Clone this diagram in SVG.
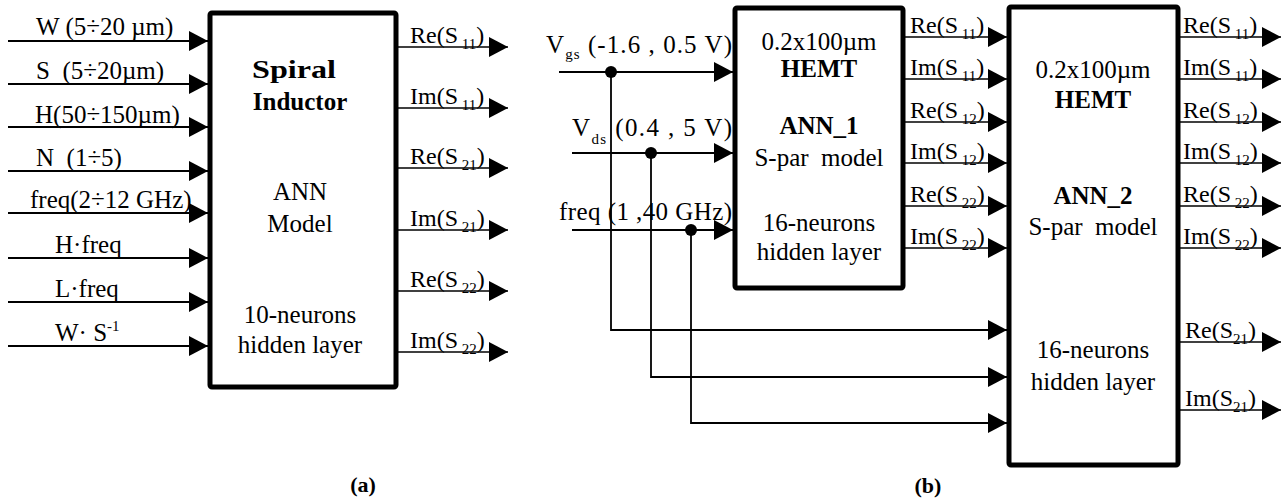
<svg xmlns="http://www.w3.org/2000/svg" width="1284" height="500" viewBox="0 0 1284 500">
<style>
text{font-family:"Liberation Serif","Times New Roman",serif;fill:#000}
.in{font-size:25px}
.lbl{font-size:24px}
.blk{font-size:25px;text-anchor:middle}
.b{font-weight:bold}
.sub{font-size:15px}
.box{fill:#fff;stroke:#000;stroke-width:5;stroke-linejoin:round}
.w{fill:none;stroke:#000;stroke-width:1.8}
.o{fill:none;stroke:#000;stroke-width:1.4}
.cap{font-size:22px;font-weight:bold;text-anchor:middle}
</style>
<defs>
<marker id="ah" markerWidth="20" markerHeight="20" refX="19" refY="10" orient="auto" markerUnits="userSpaceOnUse">
<path d="M0,0 L19,10 L0,20 z" fill="#000"/>
</marker>
</defs>

<g id="connectors">
<g class="w" marker-end="url(#ah)">
<line x1="8" y1="41" x2="208" y2="41"/>
<line x1="8" y1="84" x2="208" y2="84"/>
<line x1="8" y1="127" x2="208" y2="127"/>
<line x1="8" y1="171" x2="208" y2="171"/>
<line x1="8" y1="213" x2="208" y2="213"/>
<line x1="8" y1="258" x2="208" y2="258"/>
<line x1="8" y1="302" x2="208" y2="302"/>
<line x1="8" y1="346" x2="208" y2="346"/>
</g>
<g class="o" marker-end="url(#ah)">
<line x1="396" y1="47" x2="508" y2="47"/>
<line x1="396" y1="108" x2="508" y2="108"/>
<line x1="396" y1="168" x2="508" y2="168"/>
<line x1="396" y1="230" x2="508" y2="230"/>
<line x1="396" y1="291" x2="508" y2="291"/>
<line x1="396" y1="352" x2="508" y2="352"/>
</g>
<g class="w" marker-end="url(#ah)">
<line x1="559" y1="72" x2="733" y2="72"/>
<line x1="572" y1="153" x2="733" y2="153"/>
<line x1="572" y1="230" x2="733" y2="230"/>
<path d="M611,72 V330 H1007"/>
<path d="M651,153 V377 H1007"/>
<path d="M691,230 V423 H1007"/>
</g>
<g fill="#000">
<circle cx="611" cy="72" r="6"/>
<circle cx="651" cy="153" r="6"/>
<circle cx="691" cy="230" r="6"/>
</g>
<g class="o" marker-end="url(#ah)">
<line x1="903" y1="37" x2="1007" y2="37"/>
<line x1="903" y1="79" x2="1007" y2="79"/>
<line x1="903" y1="122" x2="1007" y2="122"/>
<line x1="903" y1="163" x2="1007" y2="163"/>
<line x1="903" y1="206" x2="1007" y2="206"/>
<line x1="903" y1="248" x2="1007" y2="248"/>
</g>
<g class="o" marker-end="url(#ah)">
<line x1="1178" y1="37" x2="1281" y2="37"/>
<line x1="1178" y1="79" x2="1281" y2="79"/>
<line x1="1178" y1="122" x2="1281" y2="122"/>
<line x1="1178" y1="163" x2="1281" y2="163"/>
<line x1="1178" y1="206" x2="1281" y2="206"/>
<line x1="1178" y1="248" x2="1281" y2="248"/>
<line x1="1178" y1="342" x2="1281" y2="342"/>
<line x1="1178" y1="410" x2="1281" y2="410"/>
</g>
</g>

<g id="labels-a-in" class="in">
<text x="36" y="35" xml:space="preserve">W (5÷20 µm)</text>
<text x="36" y="79" xml:space="preserve">S  (5÷20µm)</text>
<text x="35" y="123" xml:space="preserve">H(50÷150µm)</text>
<text x="36" y="166" xml:space="preserve">N  (1÷5)</text>
<text x="30" y="208" xml:space="preserve">freq(2÷12 GHz)</text>
<text x="55" y="253">H·freq</text>
<text x="55" y="297">L·freq</text>
<text x="55" y="341" xml:space="preserve">W· S<tspan class="sub" dy="-10">-1</tspan></text>
</g>

<g id="node-spiral">
<rect class="box" x="210" y="13" width="186" height="374" rx="2"/>
<text class="blk b" x="294" y="78" textLength="84" lengthAdjust="spacingAndGlyphs">Spiral</text>
<text class="blk b" x="300" y="110">Inductor</text>
<text class="blk" x="300" y="200">ANN</text>
<text class="blk" x="300" y="232">Model</text>
<text class="blk" x="300" y="323">10-neurons</text>
<text class="blk" x="300" y="353">hidden layer</text>
</g>

<g id="labels-a-out" class="lbl">
<text x="410" y="43">Re(S<tspan class="sub" dy="6"> 11</tspan><tspan dy="-6">)</tspan></text>
<text x="410" y="104">Im(S<tspan class="sub" dy="6"> 11</tspan><tspan dy="-6">)</tspan></text>
<text x="410" y="164">Re(S<tspan class="sub" dy="6"> 21</tspan><tspan dy="-6">)</tspan></text>
<text x="410" y="226">Im(S<tspan class="sub" dy="6"> 21</tspan><tspan dy="-6">)</tspan></text>
<text x="410" y="287">Re(S<tspan class="sub" dy="6"> 22</tspan><tspan dy="-6">)</tspan></text>
<text x="410" y="348">Im(S<tspan class="sub" dy="6"> 22</tspan><tspan dy="-6">)</tspan></text>
</g>

<g id="labels-b-in" style="font-size:25px">
<text x="546" y="53" textLength="186" xml:space="preserve">V<tspan class="sub" dy="6">gs</tspan><tspan dy="-6"> (-1.6 , 0.5 V)</tspan></text>
<text x="572" y="136" textLength="160" xml:space="preserve">V<tspan class="sub" dy="8">ds</tspan><tspan dy="-8"> (0.4 , 5 V)</tspan></text>
<text x="559" y="220" textLength="173" xml:space="preserve">freq (1 ,40 GHz)</text>
</g>

<g id="node-ann1">
<rect class="box" x="735" y="8" width="168" height="280" rx="2"/>
<text class="blk" x="819" y="50">0.2x100µm</text>
<text class="blk b" x="819" y="77">HEMT</text>
<text class="blk b" x="819" y="134">ANN_1</text>
<text class="blk" x="819" y="166" xml:space="preserve">S-par  model</text>
<text class="blk" x="819" y="231">16-neurons</text>
<text class="blk" x="819" y="260">hidden layer</text>
</g>

<g id="labels-ann1-out" class="lbl">
<text x="910" y="33">Re(S<tspan class="sub" dy="6"> 11</tspan><tspan dy="-6">)</tspan></text>
<text x="910" y="75">Im(S<tspan class="sub" dy="6"> 11</tspan><tspan dy="-6">)</tspan></text>
<text x="910" y="118">Re(S<tspan class="sub" dy="6"> 12</tspan><tspan dy="-6">)</tspan></text>
<text x="910" y="159">Im(S<tspan class="sub" dy="6"> 12</tspan><tspan dy="-6">)</tspan></text>
<text x="910" y="202">Re(S<tspan class="sub" dy="6"> 22</tspan><tspan dy="-6">)</tspan></text>
<text x="910" y="244">Im(S<tspan class="sub" dy="6"> 22</tspan><tspan dy="-6">)</tspan></text>
</g>

<g id="node-ann2">
<rect class="box" x="1009" y="7" width="169" height="458" rx="2"/>
<text class="blk" x="1093" y="78">0.2x100µm</text>
<text class="blk b" x="1093" y="108">HEMT</text>
<text class="blk b" x="1093" y="204">ANN_2</text>
<text class="blk" x="1093" y="235" xml:space="preserve">S-par  model</text>
<text class="blk" x="1093" y="358">16-neurons</text>
<text class="blk" x="1093" y="390">hidden layer</text>
</g>

<g id="labels-ann2-out" class="lbl">
<text x="1183" y="33">Re(S<tspan class="sub" dy="6"> 11</tspan><tspan dy="-6">)</tspan></text>
<text x="1183" y="75">Im(S<tspan class="sub" dy="6"> 11</tspan><tspan dy="-6">)</tspan></text>
<text x="1183" y="118">Re(S<tspan class="sub" dy="6"> 12</tspan><tspan dy="-6">)</tspan></text>
<text x="1183" y="159">Im(S<tspan class="sub" dy="6"> 12</tspan><tspan dy="-6">)</tspan></text>
<text x="1183" y="202">Re(S<tspan class="sub" dy="6"> 22</tspan><tspan dy="-6">)</tspan></text>
<text x="1183" y="244">Im(S<tspan class="sub" dy="6"> 22</tspan><tspan dy="-6">)</tspan></text>
<text x="1185" y="338">Re(S<tspan class="sub" dy="6">21</tspan><tspan dy="-6">)</tspan></text>
<text x="1185" y="406">Im(S<tspan class="sub" dy="6">21</tspan><tspan dy="-6">)</tspan></text>
</g>

<g id="captions">
<text class="cap" x="363" y="492">(a)</text>
<text class="cap" x="928" y="493">(b)</text>
</g>
</svg>
